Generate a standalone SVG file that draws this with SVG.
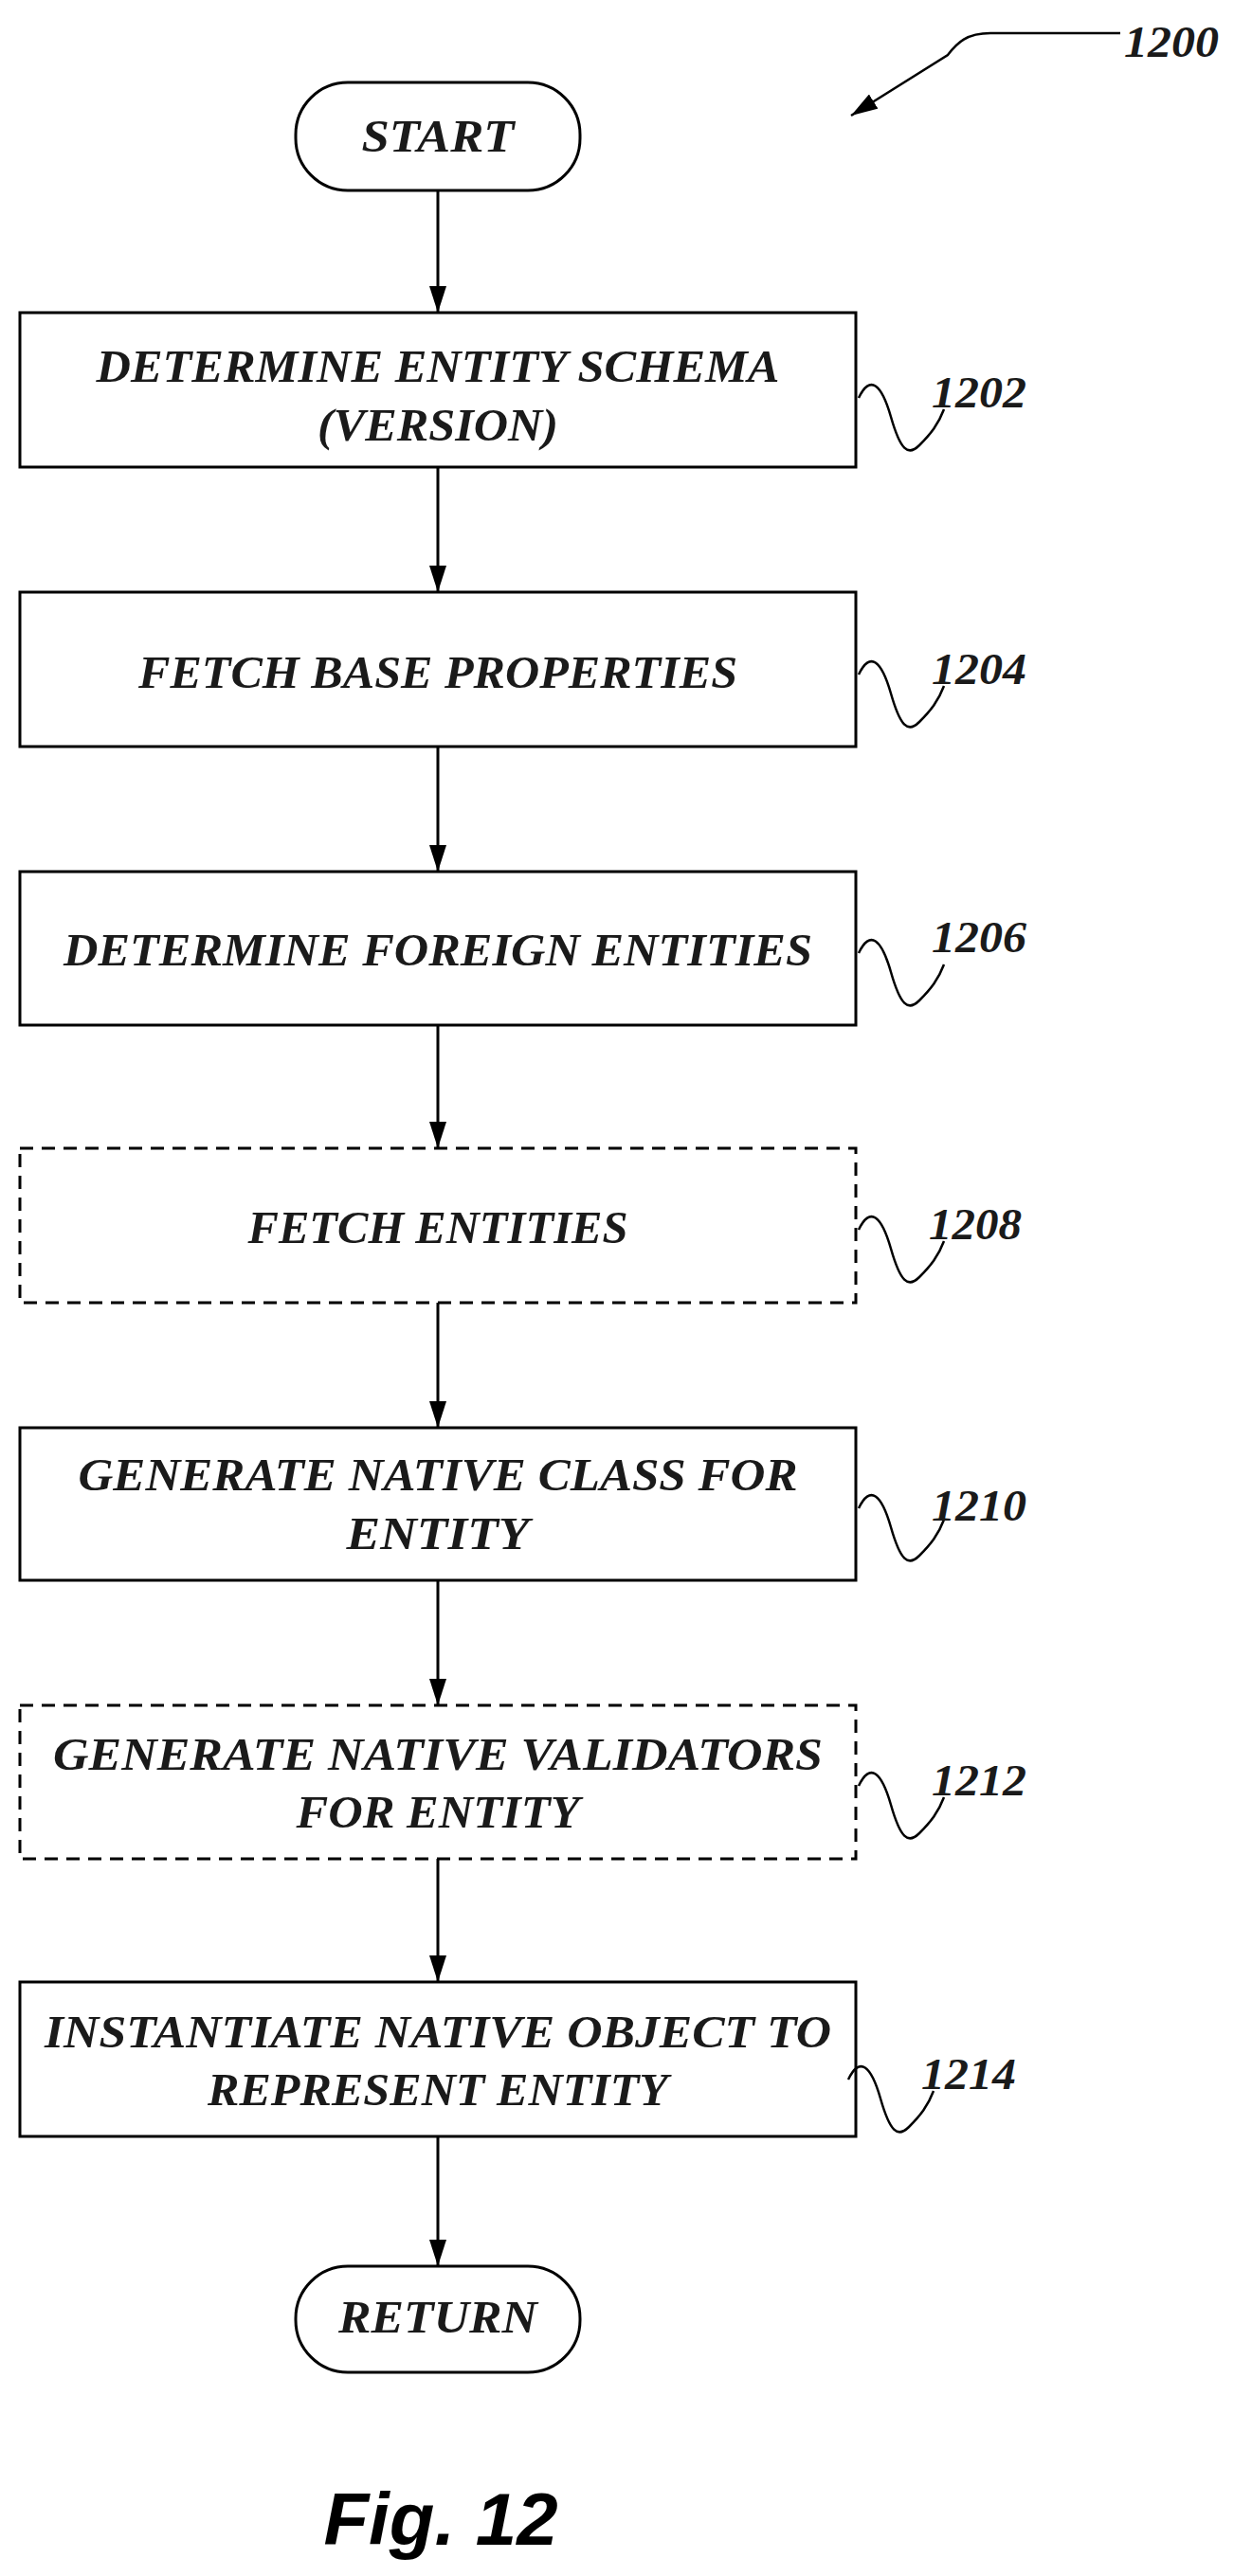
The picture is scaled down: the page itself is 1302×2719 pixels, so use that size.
<svg xmlns="http://www.w3.org/2000/svg" width="1302" height="2719" viewBox="0 0 1302 2719">
<style>
.b{fill:#fff;stroke:#000;stroke-width:3}
.d{stroke-dasharray:14 9}
.t{font-family:"Liberation Serif",serif;font-style:italic;font-weight:bold;font-size:48px;text-anchor:middle;fill:#1a1a1a}
.l{font-family:"Liberation Serif",serif;font-style:italic;font-weight:bold;font-size:46px;fill:#1a1a1a}
.c{fill:none;stroke:#000;stroke-width:3}
.s{fill:none;stroke:#000;stroke-width:2.5}
</style>
<defs>
<marker id="a2" viewBox="0 0 28 18" refX="28" refY="9" markerWidth="28" markerHeight="18" markerUnits="userSpaceOnUse" orient="auto">
<path d="M0,0 L28,9 L0,18 Z" fill="#000"/>
</marker>
</defs>
<g id="connectors">
<path class="c" d="M462,201 V330" marker-end="url(#a2)"/>
<path class="c" d="M462,493 V625" marker-end="url(#a2)"/>
<path class="c" d="M462,788 V920" marker-end="url(#a2)"/>
<path class="c" d="M462,1082 V1212" marker-end="url(#a2)"/>
<path class="c" d="M462,1375 V1507" marker-end="url(#a2)"/>
<path class="c" d="M462,1668 V1800" marker-end="url(#a2)"/>
<path class="c" d="M462,1962 V2092" marker-end="url(#a2)"/>
<path class="c" d="M462,2255 V2392" marker-end="url(#a2)"/>
<path class="s" d="M1182,35 H1045 C1020,35 1010,45 1000,58 L898,122" marker-end="url(#a2)"/>
</g>
<g id="n1200"><text class="l" x="1186" y="60" textLength="100" lengthAdjust="spacingAndGlyphs">1200</text></g>
<g id="start"><rect class="b" x="312" y="87" width="300" height="114" rx="55"/><text class="t" x="462" y="160" textLength="161" lengthAdjust="spacingAndGlyphs">START</text></g>
<g id="n1202"><rect class="b" x="21" y="330" width="882" height="163"/>
<text class="t" x="462" y="403" textLength="721" lengthAdjust="spacingAndGlyphs">DETERMINE ENTITY SCHEMA</text>
<text class="t" x="462" y="465" textLength="254" lengthAdjust="spacingAndGlyphs">(VERSION)</text>
<path class="s" d="M906,420 C918,395 930,405 940,440 C950,475 958,482 970,470 C982,458 990,448 996,432"/><text class="l" x="983" y="430" textLength="100" lengthAdjust="spacingAndGlyphs">1202</text></g>
<g id="n1204"><rect class="b" x="21" y="625" width="882" height="163"/>
<text class="t" x="462" y="726" textLength="632" lengthAdjust="spacingAndGlyphs">FETCH BASE PROPERTIES</text>
<path class="s" d="M906,712 C918,687 930,697 940,732 C950,767 958,774 970,762 C982,750 990,740 996,724"/><text class="l" x="983" y="722" textLength="100" lengthAdjust="spacingAndGlyphs">1204</text></g>
<g id="n1206"><rect class="b" x="21" y="920" width="882" height="162"/>
<text class="t" x="462" y="1019" textLength="790" lengthAdjust="spacingAndGlyphs">DETERMINE FOREIGN ENTITIES</text>
<path class="s" d="M906,1006 C918,981 930,991 940,1026 C950,1061 958,1068 970,1056 C982,1044 990,1034 996,1018"/><text class="l" x="983" y="1005" textLength="100" lengthAdjust="spacingAndGlyphs">1206</text></g>
<g id="n1208"><rect class="b d" x="21" y="1212" width="882" height="163"/>
<text class="t" x="462" y="1312" textLength="401" lengthAdjust="spacingAndGlyphs">FETCH ENTITIES</text>
<path class="s" d="M906,1298 C918,1273 930,1283 940,1318 C950,1353 958,1360 970,1348 C982,1336 990,1326 996,1310"/><text class="l" x="980" y="1308" textLength="98" lengthAdjust="spacingAndGlyphs">1208</text></g>
<g id="n1210"><rect class="b" x="21" y="1507" width="882" height="161"/>
<text class="t" x="462" y="1573" textLength="759" lengthAdjust="spacingAndGlyphs">GENERATE NATIVE CLASS FOR</text>
<text class="t" x="462" y="1635" textLength="193" lengthAdjust="spacingAndGlyphs">ENTITY</text>
<path class="s" d="M906,1592 C918,1567 930,1577 940,1612 C950,1647 958,1654 970,1642 C982,1630 990,1620 996,1604"/><text class="l" x="983" y="1605" textLength="100" lengthAdjust="spacingAndGlyphs">1210</text></g>
<g id="n1212"><rect class="b d" x="21" y="1800" width="882" height="162"/>
<text class="t" x="462" y="1868" textLength="812" lengthAdjust="spacingAndGlyphs">GENERATE NATIVE VALIDATORS</text>
<text class="t" x="462" y="1929" textLength="299" lengthAdjust="spacingAndGlyphs">FOR ENTITY</text>
<path class="s" d="M906,1885 C918,1860 930,1870 940,1905 C950,1940 958,1947 970,1935 C982,1923 990,1913 996,1897"/><text class="l" x="983" y="1895" textLength="100" lengthAdjust="spacingAndGlyphs">1212</text></g>
<g id="n1214"><rect class="b" x="21" y="2092" width="882" height="163"/>
<text class="t" x="462" y="2161" textLength="830" lengthAdjust="spacingAndGlyphs">INSTANTIATE NATIVE OBJECT TO</text>
<text class="t" x="462" y="2222" textLength="486" lengthAdjust="spacingAndGlyphs">REPRESENT ENTITY</text>
<path class="s" d="M895,2195 C907,2170 919,2180 929,2215 C939,2250 947,2257 959,2245 C971,2233 979,2223 985,2207"/><text class="l" x="972" y="2205" textLength="100" lengthAdjust="spacingAndGlyphs">1214</text></g>
<g id="return"><rect class="b" x="312" y="2392" width="300" height="112" rx="55"/><text class="t" x="462" y="2462" textLength="210" lengthAdjust="spacingAndGlyphs">RETURN</text></g>
<text x="465" y="2686" text-anchor="middle" font-family="Liberation Sans,Arial,sans-serif" font-weight="bold" font-style="italic" font-size="78">Fig. 12</text>
</svg>
